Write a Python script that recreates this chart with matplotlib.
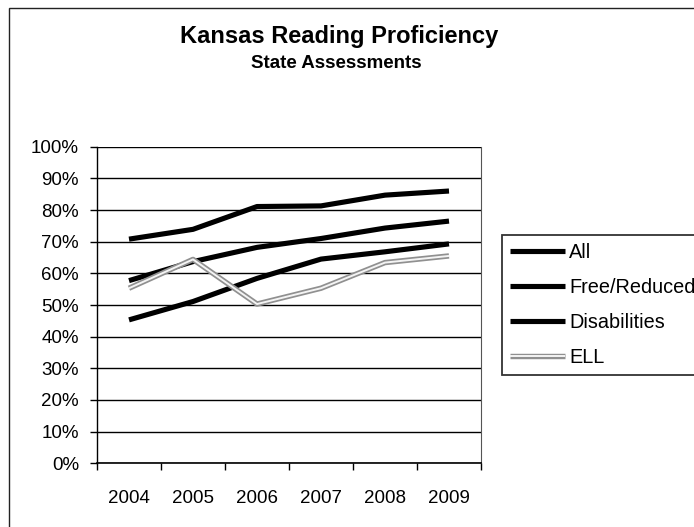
import matplotlib
matplotlib.use("Agg")
import matplotlib.pyplot as plt
import matplotlib.patheffects as pe
from matplotlib.patches import Rectangle
from matplotlib.ticker import FixedLocator, PercentFormatter

plt.rcParams['font.family'] = ['Liberation Sans', 'DejaVu Sans']

years = ['2004', '2005', '2006', '2007', '2008', '2009']
all_students = [70.8, 73.9, 81.1, 81.3, 84.7, 86.0]
free_reduced = [57.7, 63.7, 68.2, 71.0, 74.3, 76.5]
disabilities = [45.3, 51.1, 58.4, 64.5, 66.8, 69.3]
ell = [55.3, 64.4, 50.3, 55.3, 63.4, 65.5]

W, H = 694, 527
fig = plt.figure(figsize=(W / 100, H / 100), dpi=100)
fig.patch.set_facecolor('white')

# chart area outline (runs off the right and bottom edges)
fig.patches.append(Rectangle((9 / W, -0.1), 1.2, 1.1 - 8 / H,
                             transform=fig.transFigure, fill=False,
                             edgecolor='#222222', linewidth=1.0, zorder=0))

left, right, top, bottom = 97, 481, 146.7, 463.3
ax = fig.add_axes([left / W, (H - bottom) / H, (right - left) / W, (bottom - top) / H])

x = list(range(len(years)))
lw = 3.7
ax.plot(x, all_students, color='black', lw=lw, label='All', solid_capstyle='butt', zorder=3)
ax.plot(x, free_reduced, color='black', lw=lw, label='Free/Reduced', solid_capstyle='butt', zorder=3)
ax.plot(x, disabilities, color='black', lw=lw, label='Disabilities', solid_capstyle='butt', zorder=3)
ax.plot(x, ell, color='#f4f4f4', lw=1.4, label='ELL', solid_capstyle='butt', zorder=4,
        path_effects=[pe.Stroke(linewidth=3.9, foreground='#909090'), pe.Normal()])

ax.set_xlim(-0.5, len(years) - 0.5)
ax.set_ylim(0, 100)
ax.yaxis.set_major_locator(FixedLocator(range(0, 101, 10)))
ax.yaxis.set_major_formatter(PercentFormatter(decimals=0))
ax.grid(axis='y', color='black', lw=1.0, zorder=1)

ax.set_xticks(x)
ax.set_xticklabels(years)
ax.set_xticks([i - 0.5 for i in range(len(years) + 1)], minor=True)
ax.tick_params(axis='x', which='major', length=0, pad=19, labelsize=13.5)
ax.tick_params(axis='x', which='minor', length=5, width=1, direction='out')
ax.tick_params(axis='y', length=5, width=1, direction='out', pad=8, labelsize=13.5)

ax.spines['top'].set_visible(False)
ax.spines['left'].set_color('black')
ax.spines['left'].set_linewidth(1.0)
ax.spines['bottom'].set_color('black')
ax.spines['bottom'].set_linewidth(1.2)
ax.spines['right'].set_color('#555555')
ax.spines['right'].set_linewidth(0.8)
ax.spines['right'].set_linestyle((0, (1, 1)))

fig.text(339 / W, 1 - 36 / H, 'Kansas Reading Proficiency', ha='center', va='center',
         fontsize=17, fontweight='bold')
fig.text(336 / W, 1 - 64 / H, 'State Assessments', ha='center', va='center',
         fontsize=13.5, fontweight='bold')

leg = ax.legend(loc='upper left', bbox_to_anchor=(502 / W, 1 - 235 / H),
                bbox_transform=fig.transFigure, fontsize=14.3, frameon=True,
                fancybox=False, edgecolor='black', handlelength=2.75,
                handletextpad=0.2, labelspacing=0.8, borderpad=0.42,
                borderaxespad=0)
leg.get_frame().set_linewidth(1.3)

fig.savefig('out.png', dpi=100, facecolor='white')
